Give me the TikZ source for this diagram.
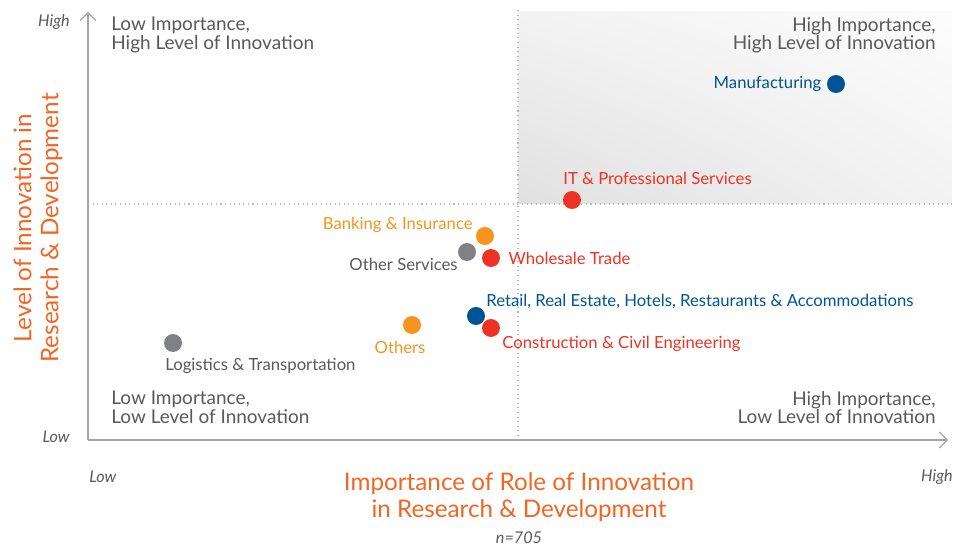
\documentclass[tikz,border=0pt]{standalone}
\usepackage{fontspec}
\setmainfont{Lato}
\usetikzlibrary{positioning,arrows.meta,shadings}

\definecolor{secblue}{RGB}{0,84,150}
\definecolor{secred}{RGB}{238,50,36}
\definecolor{secorange}{RGB}{247,148,29}
\definecolor{secgray}{RGB}{128,129,133}
\definecolor{titleorange}{RGB}{242,101,34}
\definecolor{textgray}{RGB}{88,89,91}
\definecolor{axisgray}{RGB}{165,165,165}

\tikzset{
  dot/.style={circle,inner sep=0pt,minimum size=0.36cm,fill=#1},
  tag/.style={inner sep=0pt,text=#1,font=\fontsize{9.5}{11}\selectfont},
  quad/.style={inner sep=0pt,text=textgray,font=\fontsize{10.8}{10.6}\selectfont},
  tick/.style={inner sep=0pt,text=textgray,font=\fontsize{9.2}{10}\selectfont\itshape},
  axtitle/.style={inner sep=0pt,text=titleorange,align=center,font=\fontsize{13.8}{15.3}\selectfont},
  axis/.style={draw=axisgray,line width=0.7pt,-{Straight Barb[length=4.5pt,width=9pt]}},
  divider/.style={draw=axisgray!80,dotted,line width=0.6pt}
}

\begin{document}
\begin{tikzpicture}[x=0.02cm,y=-0.02cm]
    \useasboundingbox (0,0) rectangle (968,547);
    % high / high quadrant
    \shade[lower left=black!12,upper right=black!1,lower right=black!5,upper left=black!5] (518,12) rectangle (952,204);
    \coordinate (origin) at (88,440);
    \coordinate (ytop) at (88,12);
    \coordinate (xend) at (948,440);
    \coordinate (vtop) at (518,10);
    \coordinate (vbot) at (518,440);
    \coordinate (hleft) at (88,204);
    \coordinate (hright) at (952,204);
    \draw [divider] (vtop) -- (vbot);
    \draw [divider] (hleft) -- (hright);
    \draw [axis] (origin) -- (ytop);
    \draw [axis] (origin) -- (xend);

    % sectors
    \node [dot=secblue] (manu) at (836,84) {};
    \node [dot=secred] (itpro) at (572,200) {};
    \node [dot=secorange] (bank) at (485,236) {};
    \node [dot=secgray] (othserv) at (467,252) {};
    \node [dot=secred] (whole) at (491,258) {};
    \node [dot=secblue] (retail) at (476,316) {};
    \node [dot=secred] (constr) at (491,328) {};
    \node [dot=secorange] (others) at (412,325) {};
    \node [dot=secgray] (logist) at (173,343) {};

    \node [tag=secblue, left=0.1cm of manu] (manulbl) {Manufacturing};
    \node [tag=secred, anchor=west] (itprolbl) at (563,178) {IT \& Professional Services};
    \node [tag=secorange, anchor=east] (banklbl) at (473,225) {Banking \& Insurance};
    \node [tag=textgray, anchor=east] (othservlbl) at (458,264) {Other Services};
    \node [tag=secred, right=0.16cm of whole] (wholelbl) {Wholesale Trade};
    \node [tag=secblue, anchor=west] (retaillbl) at (486,301) {Retail, Real Estate, Hotels, Restaurants \& Accommodations};
    \node [tag=secred, anchor=west] (constrlbl) at (502,344) {Construction \& Civil Engineering};
    \node [tag=secorange] (otherslbl) at (400,347) {Others};
    \node [tag=textgray, anchor=west] (logistlbl) at (165,366) {Logistics \& Transportation};

    % quadrant captions
    \node [quad, anchor=north west, align=left] (qlh) at (111,17) {Low Importance,\\High Level of Innovation};
    \node [quad, anchor=north east, align=right] (qhh) at (936,17) {High Importance,\\High Level of Innovation};
    \node [quad, anchor=north west, align=left] (qll) at (111,391) {Low Importance,\\Low Level of Innovation};
    \node [quad, anchor=north east, align=right] (qhl) at (936,391) {High Importance,\\Low Level of Innovation};

    % axis ends and titles
    \node [tick, anchor=east] (yhigh) at (70,22) {High};
    \node [tick, anchor=east] (ylow) at (70,437) {Low};
    \node [tick, anchor=west] (xlow) at (89,477) {Low};
    \node [tick, anchor=east] (xhigh) at (953,477) {High};
    \node [axtitle, rotate=90] (ytitle) at (38,228) {Level of Innovation in\\Research \& Development};
    \node [axtitle] (xtitle) at (519,497) {Importance of Role of Innovation\\in Research \& Development};
    \node [tick] (sample) at (519,538) {n=705};
\end{tikzpicture}
\end{document}
